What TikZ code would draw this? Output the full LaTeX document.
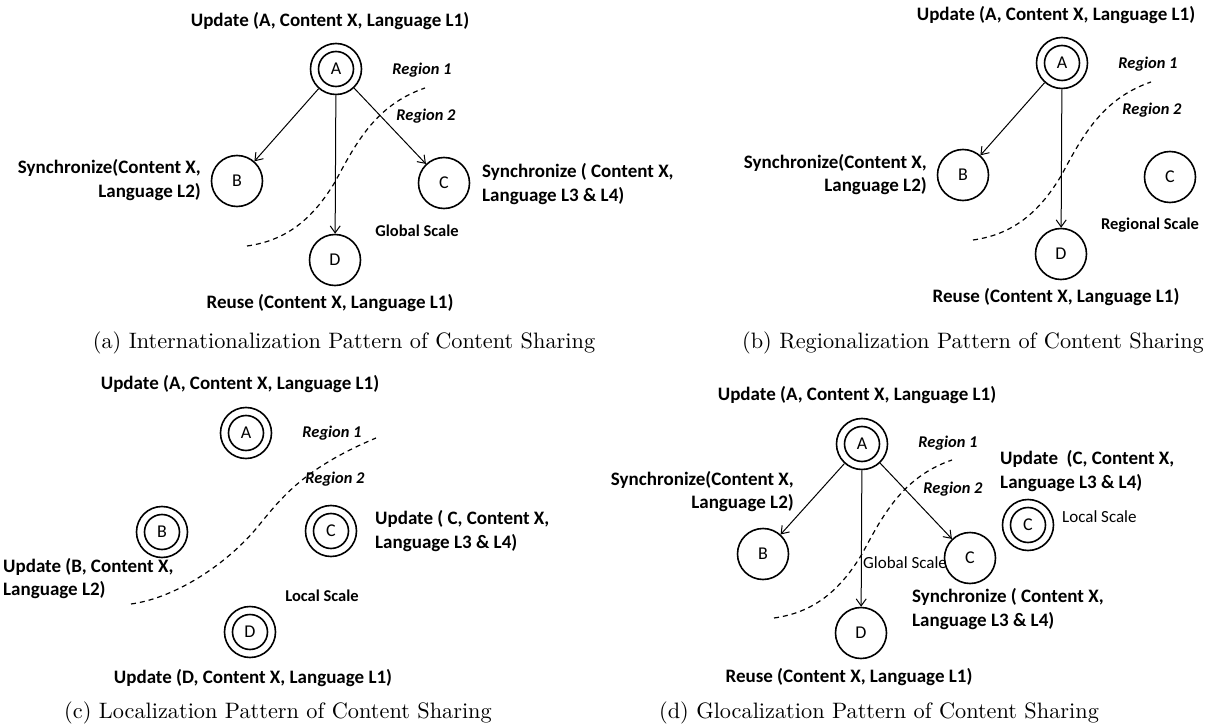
\documentclass[tikz,border=0pt]{standalone}
\usepackage{fontspec}
\newfontfamily\lblfont{Carlito}
\newfontfamily\capfont{lmroman10-regular}[Extension=.otf]
\usetikzlibrary{arrows.meta}
\begin{document}
\begin{tikzpicture}[x=1pt,y=-1pt,
  circ/.style={circle, draw, line width=1.6pt, minimum size=51pt, inner sep=0pt, font=\lblfont\fontsize{18}{18}\selectfont},
  incirc/.style={circle, draw, line width=1.6pt, minimum size=35pt, inner sep=0pt, font=\lblfont\fontsize{18}{18}\selectfont},
  lbl/.style={font=\lblfont\bfseries\fontsize{19}{23.5}\selectfont, inner sep=0pt},
  reg/.style={font=\lblfont\bfseries\itshape\fontsize{16.4}{16.4}\selectfont, inner sep=0pt},
  scl/.style={font=\lblfont\bfseries\fontsize{16.5}{16.5}\selectfont, inner sep=0pt},
  sclr/.style={font=\lblfont\fontsize{17}{17}\selectfont, inner sep=0pt},
  arr/.style={-{Straight Barb[length=7pt,width=10pt]}, line width=1pt},
  bound/.style={dash pattern=on 5pt off 4pt, line width=1.2pt},
  captxt/.style={font=\capfont\fontsize{22.3}{26}\selectfont, inner sep=0pt}
]
\useasboundingbox (0,0) rectangle (1207,727);

% ---------------- (a) ----------------
\node[lbl] (aT) at (330,21) {Update (A, Content X, Language L1)};
\node[circ] (aA) at (336,69) {};
\node[incirc] (aAi) at (aA) {A};
\node[circ] (aB) at (237,181) {B};
\node[circ] (aC) at (444,183) {C};
\node[circ] (aD) at (335,260) {D};
\draw[arr] (aA) -- (aB);
\draw[arr] (aA) -- (aD);
\draw[arr] (aA) -- (aC);
\node[reg] (aR1) at (422,70) {Region 1};
\node[reg] (aR2) at (426,116) {Region 2};
\node[lbl, anchor=east, align=right] (aSB) at (201,180) {Synchronize(Content X,\\Language L2)};
\node[lbl, anchor=west, align=left] (aSC) at (482,184) {Synchronize ( Content X,\\Language L3 \& L4)};
\node[scl] (aGS) at (417,231) {Global Scale};
\node[lbl] (aRU) at (330,303) {Reuse (Content X, Language L1)};
\coordinate (aS) at (247,246);
\coordinate (aM) at (335,182);
\coordinate (aE) at (425,88);
\draw[bound] (aS) .. controls (290,240) and (315,215) .. (aM) .. controls (355,145) and (375,105) .. (aE);
\node[captxt] (aCap) at (344,343) {(a) Internationalization Pattern of Content Sharing};

% ---------------- (b) ----------------
\node[lbl] (bT) at (1056,15) {Update (A, Content X, Language L1)};
\node[circ] (bA) at (1062,63) {};
\node[incirc] (bAi) at (bA) {A};
\node[circ] (bB) at (963,175) {B};
\node[circ] (bC) at (1170,177) {C};
\node[circ] (bD) at (1061,254) {D};
\draw[arr] (bA) -- (bB);
\draw[arr] (bA) -- (bD);
\node[reg] (bR1) at (1148,64) {Region 1};
\node[reg] (bR2) at (1152,110) {Region 2};
\node[lbl, anchor=east, align=right] (bSB) at (927,174.5) {Synchronize(Content X,\\Language L2)};
\node[scl] (bRS) at (1150,225) {Regional Scale};
\node[lbl] (bRU) at (1056,297) {Reuse (Content X, Language L1)};
\coordinate (bS) at (973,240);
\coordinate (bM) at (1061,176);
\coordinate (bE) at (1151,82);
\draw[bound] (bS) .. controls (1016,234) and (1041,209) .. (bM) .. controls (1081,139) and (1101,99) .. (bE);
\node[captxt] (bCap) at (973,343) {(b) Regionalization Pattern of Content Sharing};

% ---------------- (c) ----------------
\node[lbl] (cT) at (240,384) {Update (A, Content X, Language L1)};
\node[circ] (cA) at (246,433) {};
\node[incirc] (cAi) at (cA) {A};
\node[circ] (cB) at (162,532) {};
\node[incirc] (cBi) at (cB) {B};
\node[circ] (cC) at (331,531) {};
\node[incirc] (cCi) at (cC) {C};
\node[circ] (cD) at (250,632) {};
\node[incirc] (cDi) at (cD) {D};
\node[reg] (cR1) at (332,433) {Region 1};
\node[reg] (cR2) at (335,479) {Region 2};
\node[lbl, anchor=west, align=left] (cUB) at (3,578.5) {Update (B, Content X,\\Language L2)};
\node[lbl, anchor=west, align=left] (cUC) at (375,531) {Update ( C, Content X,\\Language L3 \& L4)};
\node[scl] (cLS) at (322,596) {Local Scale};
\node[lbl] (cUD) at (253,678) {Update (D, Content X, Language L1)};
\coordinate (cS) at (131,604);
\coordinate (cM) at (255,530);
\coordinate (cE) at (376,438);
\draw[bound] (cS) .. controls (175,598) and (225,565) .. (cM) .. controls (280,500) and (300,470) .. (cE);
\node[captxt] (cCap) at (278,713) {(c) Localization Pattern of Content Sharing};

% ---------------- (d) ----------------
\node[lbl] (dT) at (857,395) {Update (A, Content X, Language L1)};
\node[circ] (dA) at (862,444) {};
\node[incirc] (dAi) at (dA) {A};
\node[circ] (dB) at (763,554) {B};
\node[circ] (dC) at (970,558) {C};
\node[circ] (dD) at (861,633) {D};
\node[circ] (dL) at (1028,525) {};
\node[incirc] (dLi) at (dL) {C};
\draw[arr] (dA) -- (dB);
\draw[arr] (dA) -- (dD);
\draw[arr] (dA) -- (dC);
\node[reg] (dR1) at (948,443) {Region 1};
\node[reg] (dR2) at (953,489) {Region 2};
\node[lbl, anchor=east, align=right] (dSB) at (794,491.5) {Synchronize(Content X,\\Language L2)};
\node[lbl, anchor=west, align=left] (dUC) at (1000,471) {Update\ \ (C, Content X,\\Language L3 \& L4)};
\node[sclr, anchor=west] (dLS) at (1062,517) {Local Scale};
\node[sclr, anchor=west] (dGS) at (863,563) {Global Scale};
\node[lbl, anchor=west, align=left] (dSC) at (912,609) {Synchronize ( Content X,\\Language L3 \& L4)};
\node[lbl] (dRU) at (849,677) {Reuse (Content X, Language L1)};
\coordinate (dS) at (774,618);
\coordinate (dM) at (862,554);
\coordinate (dE) at (952,460);
\draw[bound] (dS) .. controls (817,612) and (842,587) .. (dM) .. controls (882,517) and (902,477) .. (dE);
\node[captxt] (dCap) at (879,713) {(d) Glocalization Pattern of Content Sharing};
\end{tikzpicture}
\end{document}
